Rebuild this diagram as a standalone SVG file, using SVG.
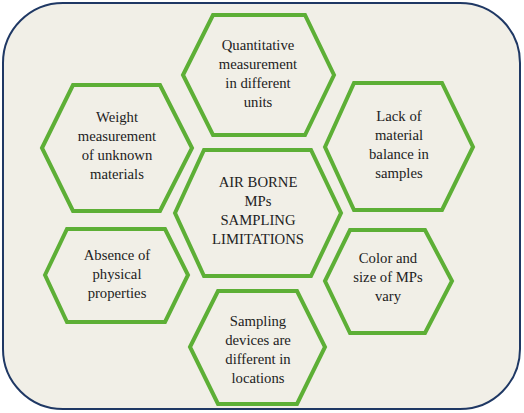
<svg xmlns="http://www.w3.org/2000/svg" width="524" height="413" viewBox="0 0 524 413">
<style>
.hex{fill:none;stroke:#5DAF36;stroke-width:4;stroke-linejoin:miter}
</style>
<rect x="0" y="0" width="524" height="413" fill="#ffffff"/>
<rect id="frame" x="3" y="3" width="517" height="406" rx="60" ry="60" fill="#F1EFE7" stroke="#1F3864" stroke-width="2"/>
<g id="connectors"></g>
<g font-family="Liberation Serif, serif" font-size="14.7" fill="#222" text-anchor="middle">
<g id="quant">
<polygon class="hex" points="183,75 213,15 305,15 334,75 305,135 213,135"/>
<text x="258" y="50">Quantitative</text>
<text x="258" y="69">measurement</text>
<text x="258" y="88">in different</text>
<text x="258" y="107">units</text>
</g>
<g id="weight">
<polygon class="hex" points="42,148 73,85 160,85 192,148 160,211 73,211"/>
<text x="117" y="122">Weight</text>
<text x="117" y="141">measurement</text>
<text x="117" y="160">of unknown</text>
<text x="117" y="179">materials</text>
</g>
<g id="lack">
<polygon class="hex" points="325,147 354,83 442,83 473,147 442,210 354,210"/>
<text x="399" y="121">Lack of</text>
<text x="399" y="140">material</text>
<text x="399" y="159">balance in</text>
<text x="399" y="178">samples</text>
</g>
<g id="center">
<polygon class="hex" points="175,213 204,150 311,150 341,213 311,276 204,276"/>
<text x="258" y="187">AIR BORNE</text>
<text x="258" y="206">MPs</text>
<text x="258" y="225">SAMPLING</text>
<text x="258" y="244">LIMITATIONS</text>
</g>
<g id="absence">
<polygon class="hex" points="45,275 67,229 165,229 188,275 165,322 67,322"/>
<text x="117" y="260">Absence of</text>
<text x="117" y="279">physical</text>
<text x="117" y="298">properties</text>
</g>
<g id="color">
<polygon class="hex" points="325,281 350,230 425,230 452,281 425,333 350,333"/>
<text x="388" y="263">Color and</text>
<text x="388" y="282">size of MPs</text>
<text x="388" y="301">vary</text>
</g>
<g id="sampling">
<polygon class="hex" points="190,347 218,291 297,291 325,347 297,404 218,404"/>
<text x="258" y="326">Sampling</text>
<text x="258" y="345">devices are</text>
<text x="258" y="364">different in</text>
<text x="258" y="383">locations</text>
</g>
</g>
</svg>
